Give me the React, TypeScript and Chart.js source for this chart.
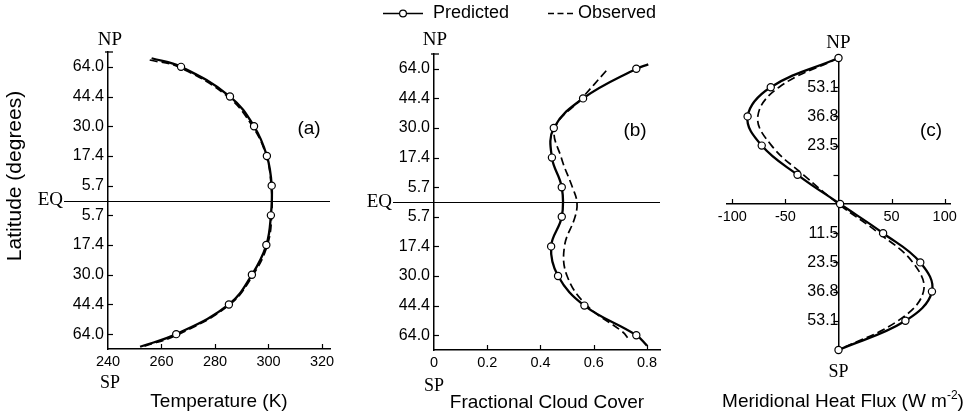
import React, { useEffect, useRef } from 'react';
import { Chart, registerables } from 'chart.js';

Chart.register(...registerables);

// ---------- data (y positions are sin(latitude)) ----------
const LAT_TICK_VALUES = [0.9, 0.7, 0.5, 0.3, 0.1, -0.1, -0.3, -0.5, -0.7, -0.9];
const LAT_TICK_LABELS = ['64.0', '44.4', '30.0', '17.4', '5.7', '5.7', '17.4', '30.0', '44.4', '64.0'];

const FLUX_LAT_TICK_VALUES = [0.8, 0.6, 0.4, 0.2, -0.2, -0.4, -0.6, -0.8];
const FLUX_LAT_TICK_LABELS = ['53.1', '36.8', '23.5', '', '11.5', '23.5', '36.8', '53.1'];

// Panel (a) temperature (K)
const TEMP_PRED_SINLAT = [0.958, 0.9, 0.7, 0.5, 0.3, 0.1, -0.1, -0.3, -0.5, -0.7, -0.9, -0.985];
const TEMP_PRED = [256.3, 267.3, 285.6, 294.6, 299.4, 301.2, 300.9, 299.2, 293.8, 285.2, 265.5, 252.0];
const TEMP_OBS_SINLAT = [0.946, 0.9, 0.7, 0.5, 0.3, 0.1, -0.1, -0.3, -0.5, -0.7, -0.9, -0.985];
const TEMP_OBS = [255.6, 266.3, 284.8, 294.0, 299.2, 301.0, 301.2, 299.6, 294.3, 285.6, 266.5, 253.0];
const TEMP_TICKS = [240, 260, 280, 300, 320];
const TEMP_TICK_LABELS = ['240', '260', '280', '300', '320'];

// Panel (b) fractional cloud cover
const CLOUD_PRED_SINLAT = [0.93, 0.9, 0.7, 0.5, 0.3, 0.1, -0.1, -0.3, -0.5, -0.7, -0.9, -0.97];
const CLOUD_PRED = [0.805, 0.76, 0.56, 0.45, 0.443, 0.48, 0.48, 0.44, 0.466, 0.565, 0.76, 0.8];
const CLOUD_OBS_SINLAT = [0.887, 0.7, 0.5, 0.3, 0.1, 0, -0.1, -0.3, -0.5, -0.7, -0.88, -0.925];
const CLOUD_OBS = [0.647, 0.555, 0.455, 0.478, 0.52, 0.537, 0.53, 0.49, 0.5, 0.575, 0.71, 0.73];
const CLOUD_TICKS = [0, 0.2, 0.4, 0.6, 0.8];
const CLOUD_TICK_LABELS = ['0', '0.2', '0.4', '0.6', '0.8'];

// Panel (c) meridional heat flux (W m-2)
const FLUX_SINLAT = [1, 0.8, 0.6, 0.4, 0.2, 0, -0.2, -0.4, -0.6, -0.8, -1];
const FLUX_PRED = [0, -63.8, -85.6, -72.3, -38.6, 1.5, 42, 77, 88, 63, 0];
const FLUX_OBS = [0, -56, -76, -63, -33, 0, 38, 70, 80, 56, 0];
const FLUX_TICKS = [-100, -50, 50, 100];
const FLUX_TICK_LABELS = ['-100', '-50', '50', '100'];

// ---------- fonts ----------
const SANS = "'Liberation Sans', Arial, sans-serif";
const SERIF = "'Liberation Serif', 'Times New Roman', serif";

function fontAvailable(fam: string) {
  const c = document.createElement('canvas').getContext('2d');
  if (!c) return false;
  const s = '64.0 17.4 Predicted';
  c.font = '40px monospace';
  const w1 = c.measureText(s).width;
  c.font = `40px ${fam}, monospace`;
  const w2 = c.measureText(s).width;
  return Math.abs(w1 - w2) > 0.5;
}

const toPts = (xs: number[], ys: number[]) => xs.map((x, i) => ({ x, y: ys[i] }));

function predDs(vals: number[], lat: number[], hideEnds: boolean) {
  return {
    label: 'Predicted',
    data: toPts(vals, lat),
    showLine: true,
    borderColor: '#000',
    borderWidth: 2.3,
    tension: 0.4,
    pointRadius: (c: any) => (hideEnds && (c.dataIndex === 0 || c.dataIndex === vals.length - 1) ? 0 : 3.6),
    pointHoverRadius: 0,
    pointBackgroundColor: '#fff',
    pointBorderColor: '#000',
    pointBorderWidth: 1.2,
    clip: false,
    order: 0,
  };
}

function obsDs(vals: number[], lat: number[]) {
  return {
    label: 'Observed',
    data: toPts(vals, lat),
    showLine: true,
    borderColor: '#000',
    borderWidth: 1.7,
    borderDash: [8, 4],
    tension: 0.4,
    pointRadius: 0,
    pointHoverRadius: 0,
    clip: false,
    order: 1,
  };
}

function txt(ctx: CanvasRenderingContext2D, s: string, x: number, y: number, font: string, align: CanvasTextAlign = 'center') {
  ctx.save();
  ctx.font = font;
  ctx.fillStyle = '#000';
  ctx.textAlign = align;
  ctx.textBaseline = 'middle';
  ctx.fillText(s, x, y);
  ctx.restore();
}

function line(ctx: CanvasRenderingContext2D, x1: number, y1: number, x2: number, y2: number, w = 1.3, dash: number[] = []) {
  ctx.save();
  ctx.strokeStyle = '#000';
  ctx.lineWidth = w;
  ctx.setLineDash(dash);
  ctx.beginPath();
  ctx.moveTo(x1, y1);
  ctx.lineTo(x2, y2);
  ctx.stroke();
  ctx.restore();
}

export default function App() {
  const refA = useRef<HTMLCanvasElement>(null);
  const refB = useRef<HTMLCanvasElement>(null);
  const refC = useRef<HTMLCanvasElement>(null);

  useEffect(() => {
    const narrow = fontAvailable("'Liberation Sans Narrow'");
    const TICK_FAM = narrow ? "'Liberation Sans Narrow', 'Liberation Sans', sans-serif" : SANS;
    const yTickSize = narrow ? 19 : 16;
    const xTickSize = narrow ? 17.5 : 14.5;

    const latScale = (position: any, values: number[], labels: string[], width?: number) => ({
      type: 'linear',
      min: -1,
      max: 1,
      position,
      afterBuildTicks: (s: any) => { s.ticks = values.map((v) => ({ value: v })); },
      ...(width ? { afterFit: (s: any) => { s.width = width; } } : {}),
      grid: { display: true, drawOnChartArea: false, drawTicks: false },
      border: { display: true, color: '#000', width: 1.5 },
      ticks: {
        autoSkip: false,
        padding: 4,
        color: '#000',
        font: { family: TICK_FAM, size: yTickSize },
        callback: (_v: any, i: number) => labels[i],
      },
    });

    const valScale = (min: number, max: number, position: any, values: number[], labels: string[], title?: string, height?: number) => ({
      type: 'linear',
      min,
      max,
      position,
      afterBuildTicks: (s: any) => { s.ticks = values.map((v) => ({ value: v })); },
      ...(height ? { afterFit: (s: any) => { s.height = height; } } : {}),
      grid: { display: true, drawOnChartArea: false, drawTicks: false },
      border: { display: true, color: '#000', width: 1.5 },
      ticks: {
        autoSkip: false,
        maxRotation: 0,
        padding: 4,
        color: '#000',
        font: { family: TICK_FAM, size: xTickSize },
        callback: (_v: any, i: number) => labels[i],
      },
      title: title
        ? { display: true, text: title, color: '#000', font: { family: SANS, size: 19 }, padding: 0 }
        : { display: false },
    });

    const inwardTicks = (chart: any, axisX: number, axisY: number, yVals: number[], xVals: number[], yDir: number, xDir: number) => {
      const ctx = chart.ctx;
      const xs = chart.scales.x, ys = chart.scales.y;
      yVals.forEach((v) => { const p = Math.round(ys.getPixelForValue(v)) + 0.5; line(ctx, axisX, p, axisX + 5 * yDir, p, 1.2); });
      xVals.forEach((v) => { const p = Math.round(xs.getPixelForValue(v)) + 0.5; line(ctx, p, axisY, p, axisY - 5 * xDir, 1.2); });
    };

    const eqLine = (chart: any, x1: number) => {
      const y = Math.round(chart.scales.y.getPixelForValue(0)) + 0.5;
      line(chart.ctx, x1, y, chart.chartArea.right, y, 1);
    };

    const baseOpts = (padding: any, scales: any) => ({
      responsive: false,
      animation: false,
      devicePixelRatio: 1,
      layout: { padding },
      plugins: { legend: { display: false }, tooltip: { enabled: false }, title: { display: false } },
      events: [],
      scales,
    });

    // ----- panel (a)
    const decorA = {
      id: 'decorA',
      beforeDatasetsDraw(chart: any) { eqLine(chart, 64); },
      afterDraw(chart: any) {
        const ctx = chart.ctx;
        const { left, top, bottom } = chart.chartArea;
        const ys = chart.scales.y;
        inwardTicks(chart, left, bottom, LAT_TICK_VALUES, TEMP_TICKS.slice(1), 1, 1);
        line(ctx, left - 3, top, left + 5, top, 1.3);
        txt(ctx, 'NP', left + 2, 40, `19px ${SERIF}`);
        txt(ctx, 'SP', left + 2, 383, `18px ${SERIF}`);
        txt(ctx, 'EQ', 63, ys.getPixelForValue(0), `19px ${SERIF}`, 'right');
        txt(ctx, '(a)', 309, 129, `19px ${SANS}`);
        ctx.save();
        ctx.translate(15, 176);
        ctx.rotate(-Math.PI / 2);
        txt(ctx, 'Latitude (degrees)', 0, 0, `21px ${SANS}`);
        ctx.restore();
      },
    };
    const cfgA: any = {
      type: 'scatter',
      data: { datasets: [predDs(TEMP_PRED, TEMP_PRED_SINLAT, true), obsDs(TEMP_OBS, TEMP_OBS_SINLAT)] },
      options: baseOpts({ left: 63, right: 967 - 330, top: 52, bottom: 7 }, {
        x: valScale(240, 323, 'bottom', TEMP_TICKS, TEMP_TICK_LABELS, 'Temperature (K)', 64),
        y: latScale('left', LAT_TICK_VALUES, LAT_TICK_LABELS, 45),
      }),
      plugins: [decorA],
    };

    // ----- panel (b)
    const decorB = {
      id: 'decorB',
      beforeDatasetsDraw(chart: any) { eqLine(chart, 393); },
      afterDraw(chart: any) {
        const ctx = chart.ctx;
        const { left, top, bottom } = chart.chartArea;
        const ys = chart.scales.y;
        inwardTicks(chart, left, bottom, LAT_TICK_VALUES, CLOUD_TICKS.slice(1), 1, 1);
        line(ctx, left - 3, top, left + 5, top, 1.3);
        txt(ctx, 'NP', left + 1, 40, `19px ${SERIF}`);
        txt(ctx, 'SP', left, 386, `18px ${SERIF}`);
        txt(ctx, 'EQ', 392, ys.getPixelForValue(0), `19px ${SERIF}`, 'right');
        txt(ctx, '(b)', 635, 131, `19px ${SANS}`);
        // legend
        line(ctx, 383, 13.5, 423, 13.5, 1.5);
        ctx.save();
        ctx.beginPath();
        ctx.arc(403, 13.5, 3.4, 0, Math.PI * 2);
        ctx.fillStyle = '#fff';
        ctx.fill();
        ctx.lineWidth = 1.2;
        ctx.strokeStyle = '#000';
        ctx.stroke();
        ctx.restore();
        txt(ctx, 'Predicted', 433, 13, `18px ${SANS}`, 'left');
        line(ctx, 548, 13.5, 573, 13.5, 1.5, [6, 3.5]);
        txt(ctx, 'Observed', 578, 13, `18px ${SANS}`, 'left');
      },
    };
    const cfgB: any = {
      type: 'scatter',
      data: { datasets: [predDs(CLOUD_PRED, CLOUD_PRED_SINLAT, true), obsDs(CLOUD_OBS, CLOUD_OBS_SINLAT)] },
      options: baseOpts({ left: 389, right: 967 - 660, top: 54, bottom: 6 }, {
        x: valScale(0, 0.849, 'bottom', CLOUD_TICKS, CLOUD_TICK_LABELS, 'Fractional Cloud Cover', 64),
        y: latScale('left', LAT_TICK_VALUES, LAT_TICK_LABELS, 45),
      }),
      plugins: [decorB],
    };

    // ----- panel (c)
    const decorC = {
      id: 'decorC',
      afterDraw(chart: any) {
        const ctx = chart.ctx;
        const xs = chart.scales.x, ys = chart.scales.y;
        const ax = xs.getPixelForValue(0), ay = ys.getPixelForValue(0);
        inwardTicks(chart, ax, ay, FLUX_LAT_TICK_VALUES, FLUX_TICKS, -1, 1);
        txt(ctx, 'NP', ax, 43, `19px ${SERIF}`);
        txt(ctx, 'SP', ax, 372, `18px ${SERIF}`);
        txt(ctx, '(c)', 931, 131, `19px ${SANS}`);
        // axis title with superscript
        const main = 'Meridional Heat Flux (W m';
        const sup = '-2';
        const end = ')';
        ctx.save();
        ctx.font = `19px ${SANS}`;
        const wMain = ctx.measureText(main).width;
        const wEnd = ctx.measureText(end).width;
        ctx.font = `12px ${SANS}`;
        const wSup = ctx.measureText(sup).width;
        ctx.restore();
        const x0 = 843 - (wMain + wSup + wEnd) / 2;
        txt(ctx, main, x0, 402, `19px ${SANS}`, 'left');
        txt(ctx, sup, x0 + wMain, 396, `12px ${SANS}`, 'left');
        txt(ctx, end, x0 + wMain + wSup, 402, `19px ${SANS}`, 'left');
      },
    };
    const cfgC: any = {
      type: 'scatter',
      data: { datasets: [predDs(FLUX_PRED, FLUX_SINLAT, false), obsDs(FLUX_OBS, FLUX_SINLAT)] },
      options: baseOpts({ left: 727, right: 17, top: 58, bottom: 70 }, {
        x: valScale(-105, 105, { y: 0 }, FLUX_TICKS, FLUX_TICK_LABELS),
        y: latScale({ x: 0 }, FLUX_LAT_TICK_VALUES, FLUX_LAT_TICK_LABELS),
      }),
      plugins: [decorC],
    };

    const charts = [
      new Chart(refA.current as HTMLCanvasElement, cfgA),
      new Chart(refB.current as HTMLCanvasElement, cfgB),
      new Chart(refC.current as HTMLCanvasElement, cfgC),
    ];
    return () => charts.forEach((c) => c.destroy());
  }, []);

  const cs: React.CSSProperties = { position: 'absolute', left: 0, top: 0, width: 967, height: 420, display: 'block' };
  return (
    <div style={{ position: 'fixed', left: 0, top: 0, width: 967, height: 420, background: '#fff' }}>
      <canvas ref={refA} width={967} height={420} style={cs} />
      <canvas ref={refB} width={967} height={420} style={cs} />
      <canvas ref={refC} width={967} height={420} style={cs} />
    </div>
  );
}
